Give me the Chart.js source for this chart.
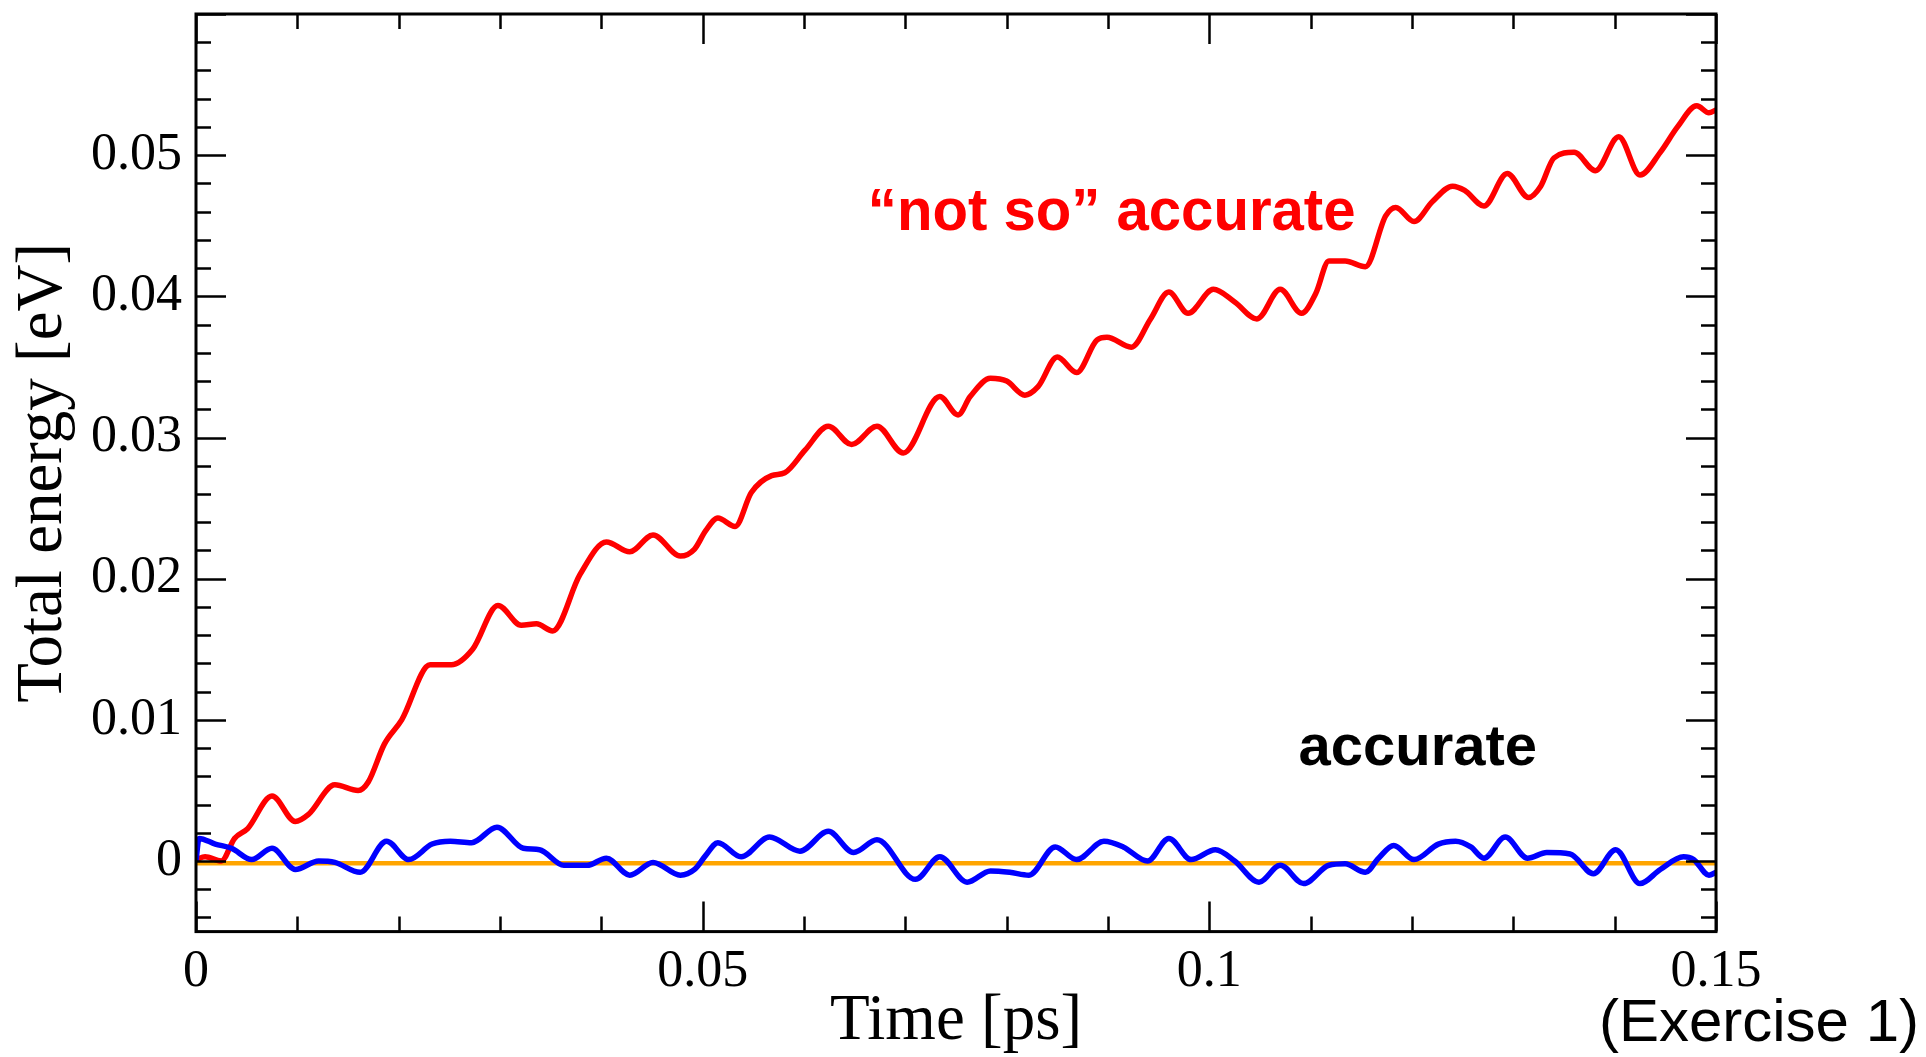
<!DOCTYPE html>
<html>
<head>
<meta charset="utf-8">
<title>Total energy vs time</title>
<script src="https://cdn.jsdelivr.net/npm/chart.js@4.4.1/dist/chart.umd.min.js"></script>
<style>
  body { margin: 0; background: #fff; }
  canvas { display: block; }
</style>
</head>
<body>
<canvas id="energyChart" width="1926" height="1057"></canvas>
<script>
// time axis ticks [ps] and energy axis ticks [eV]
var timeTicks = [0, 0.05, 0.1, 0.15];
var energyTicks = [0, 0.01, 0.02, 0.03, 0.04, 0.05];

// "not so" accurate run (large time step)
var roughTime = [
  0.0000, 0.0009, 0.0025, 0.0038, 0.0051, 0.0075, 0.0098, 0.0111, 0.0137, 0.0160,
  0.0170, 0.0186, 0.0203, 0.0231, 0.0252, 0.0273, 0.0298, 0.0321, 0.0336, 0.0352,
  0.0379, 0.0405, 0.0428, 0.0451, 0.0478, 0.0492, 0.0503, 0.0515, 0.0532, 0.0548,
  0.0568, 0.0581, 0.0601, 0.0624, 0.0647, 0.0672, 0.0698, 0.0734, 0.0752, 0.0764,
  0.0784, 0.0800, 0.0818, 0.0831, 0.0850, 0.0869, 0.0889, 0.0899, 0.0923, 0.0942,
  0.0960, 0.0979, 0.1004, 0.1025, 0.1047, 0.1070, 0.1091, 0.1105, 0.1118, 0.1134,
  0.1154, 0.1174, 0.1184, 0.1202, 0.1220, 0.1240, 0.1252, 0.1271, 0.1294, 0.1315,
  0.1327, 0.1340, 0.1360, 0.1381, 0.1404, 0.1425, 0.1445, 0.1462, 0.1481, 0.1493,
  0.1500
];
var roughEnergy = [
  0.0001, 0.0003, 0.0000, 0.0016, 0.0023, 0.0046, 0.0028, 0.0033, 0.0054, 0.0050,
  0.0056, 0.0083, 0.0100, 0.0139, 0.0139, 0.0150, 0.0181, 0.0167, 0.0168, 0.0163,
  0.0203, 0.0226, 0.0219, 0.0231, 0.0216, 0.0221, 0.0234, 0.0243, 0.0237, 0.0261,
  0.0273, 0.0275, 0.0291, 0.0308, 0.0295, 0.0308, 0.0289, 0.0329, 0.0316, 0.0329,
  0.0342, 0.0340, 0.0330, 0.0336, 0.0357, 0.0346, 0.0369, 0.0371, 0.0364, 0.0384,
  0.0403, 0.0388, 0.0405, 0.0396, 0.0384, 0.0405, 0.0388, 0.0402, 0.0425, 0.0425,
  0.0421, 0.0457, 0.0463, 0.0453, 0.0467, 0.0478, 0.0475, 0.0464, 0.0487, 0.0470,
  0.0478, 0.0498, 0.0502, 0.0489, 0.0513, 0.0486, 0.0502, 0.0520, 0.0535, 0.0530,
  0.0532
];

// accurate run (small time step)
var fineTime = [
  0.0000, 0.0003, 0.0019, 0.0035, 0.0055, 0.0075, 0.0098, 0.0121, 0.0137, 0.0162,
  0.0188, 0.0210, 0.0233, 0.0251, 0.0272, 0.0297, 0.0323, 0.0339, 0.0363, 0.0386,
  0.0405, 0.0428, 0.0451, 0.0478, 0.0492, 0.0503, 0.0515, 0.0538, 0.0566, 0.0596,
  0.0624, 0.0649, 0.0672, 0.0710, 0.0734, 0.0761, 0.0784, 0.0803, 0.0822, 0.0848,
  0.0869, 0.0896, 0.0915, 0.0939, 0.0960, 0.0982, 0.1006, 0.1025, 0.1049, 0.1070,
  0.1093, 0.1118, 0.1134, 0.1154, 0.1167, 0.1182, 0.1202, 0.1226, 0.1243, 0.1258,
  0.1271, 0.1292, 0.1314, 0.1333, 0.1356, 0.1379, 0.1401, 0.1425, 0.1445, 0.1468,
  0.1478, 0.1493, 0.1500
];
var fineEnergy = [
  0.0000, 0.0016, 0.0012, 0.0009, 0.0001, 0.0009, -0.0006, 0.0000, -0.0001, -0.0008,
  0.0014, 0.0001, 0.0012, 0.0014, 0.0013, 0.0024, 0.0009, 0.0008, -0.0003, -0.0003,
  0.0002, -0.0010, -0.0001, -0.0010, -0.0006, 0.0004, 0.0013, 0.0003, 0.0017, 0.0007,
  0.0021, 0.0006, 0.0015, -0.0013, 0.0003, -0.0015, -0.0007, -0.0008, -0.0010, 0.0010,
  0.0001, 0.0014, 0.0010, 0.0000, 0.0016, 0.0001, 0.0008, 0.0000, -0.0015, -0.0003,
  -0.0016, -0.0003, -0.0002, -0.0008, 0.0002, 0.0011, 0.0001, 0.0012, 0.0014, 0.0010,
  0.0002, 0.0017, 0.0002, 0.0006, 0.0005, -0.0009, 0.0008, -0.0016, -0.0006, 0.0003,
  0.0001, -0.0010, -0.0008
];

// reference (initial) energy level
var refTime = [0, 0.15];
var refEnergy = [-0.00015, -0.00015];

var serif = '"Liberation Serif", "Times New Roman", serif';
var sans = '"Liberation Sans", Arial, sans-serif';

function toPoints(xs, ys) {
  return xs.map(function(x, i) { return { x: x, y: ys[i] }; });
}

function fmt(v) {
  return String(+v.toFixed(3));
}

// frame with inward ticks on all four sides, plus the text labels
var framePlugin = {
  id: 'frame',
  afterDatasetsDraw: function(chart) {
    var ctx = chart.ctx;
    var a = chart.chartArea;
    var xs = chart.scales.x;
    var ys = chart.scales.y;
    var i, v, p, len;

    ctx.save();
    ctx.strokeStyle = '#000';
    ctx.lineWidth = 2.5;
    ctx.beginPath();
    for (i = 0; i <= 15; i++) {
      v = i * 0.01;
      p = Math.round(xs.getPixelForValue(v)) + 0.5;
      len = (i % 5 === 0) ? 30 : 15;
      ctx.moveTo(p, a.bottom); ctx.lineTo(p, a.bottom - len);
      ctx.moveTo(p, a.top); ctx.lineTo(p, a.top + len);
    }
    for (i = -2; i <= 30; i++) {
      v = i * 0.002;
      p = Math.round(ys.getPixelForValue(v)) + 0.5;
      len = (i % 5 === 0) ? 30 : 15;
      ctx.moveTo(a.left, p); ctx.lineTo(a.left + len, p);
      ctx.moveTo(a.right, p); ctx.lineTo(a.right - len, p);
    }
    ctx.stroke();

    ctx.lineWidth = 3;
    ctx.strokeRect(a.left, a.top, a.right - a.left, a.bottom - a.top);

    // series labels
    ctx.textBaseline = 'alphabetic';
    ctx.textAlign = 'left';
    ctx.fillStyle = '#ff0000';
    ctx.font = 'bold 59px ' + sans;
    ctx.save();
    ctx.translate(xs.getPixelForValue(0.0663), ys.getPixelForValue(0.0447));
    ctx.scale(0.985, 1);
    ctx.fillText('\u201cnot so\u201d accurate', 0, 0);
    ctx.restore();

    ctx.fillStyle = '#000';
    ctx.font = 'bold 58px ' + sans;
    ctx.fillText('accurate', xs.getPixelForValue(0.1088), ys.getPixelForValue(0.00678));

    ctx.font = '60px ' + sans;
    ctx.textAlign = 'right';
    ctx.fillText('(Exercise 1)', chart.width - 7, chart.height - 16);
    ctx.restore();
  }
};

var ctx = document.getElementById('energyChart').getContext('2d');
var energyChart = new Chart(ctx, {
  type: 'line',
  data: {
    datasets: [
      {
        label: 'accurate',
        data: toPoints(fineTime, fineEnergy),
        borderColor: '#0000ff',
        borderWidth: 5.5,
        pointRadius: 0,
        cubicInterpolationMode: 'monotone',
        order: 0
      },
      {
        label: 'not so accurate',
        data: toPoints(roughTime, roughEnergy),
        borderColor: '#ff0000',
        borderWidth: 5.5,
        pointRadius: 0,
        cubicInterpolationMode: 'monotone',
        order: 1
      },
      {
        label: 'reference',
        data: toPoints(refTime, refEnergy),
        borderColor: '#ffa500',
        borderWidth: 4.5,
        pointRadius: 0,
        order: 2
      }
    ]
  },
  options: {
    responsive: false,
    animation: false,
    devicePixelRatio: 1,
    layout: { padding: { top: 14, right: 210, left: 0, bottom: 0 } },
    plugins: {
      legend: { display: false },
      tooltip: { enabled: false }
    },
    scales: {
      x: {
        type: 'linear',
        min: 0,
        max: 0.15,
        grid: { display: false, drawTicks: false },
        border: { display: false },
        afterBuildTicks: function(scale) {
          scale.ticks = timeTicks.map(function(v) { return { value: v }; });
        },
        afterFit: function(scale) {
          scale.height = 125.4;
          scale.paddingLeft = 0;
          scale.paddingRight = 0;
        },
        ticks: {
          autoSkip: false,
          maxRotation: 0,
          padding: 10,
          color: '#000',
          font: { family: serif, size: 52 },
          callback: function(v) { return fmt(v); }
        },
        title: {
          display: true,
          text: 'Time [ps]',
          color: '#000',
          font: { family: serif, size: 65, lineHeight: 1 },
          padding: { top: 0, bottom: 3 }
        }
      },
      y: {
        type: 'linear',
        min: -0.005,
        max: 0.06,
        grid: { display: false, drawTicks: false },
        border: { display: false },
        afterBuildTicks: function(scale) {
          scale.ticks = energyTicks.map(function(v) { return { value: v }; });
        },
        afterFit: function(scale) {
          scale.width = 196;
          scale.paddingTop = 0;
          scale.paddingBottom = 0;
        },
        ticks: {
          autoSkip: false,
          padding: 14,
          color: '#000',
          font: { family: serif, size: 52 },
          callback: function(v) { return fmt(v); }
        },
        title: {
          display: true,
          text: 'Total energy [eV]',
          color: '#000',
          font: { family: serif, size: 65, lineHeight: 1 },
          padding: { top: 11, bottom: 0 }
        }
      }
    }
  },
  plugins: [framePlugin]
});
</script>
</body>
</html>
